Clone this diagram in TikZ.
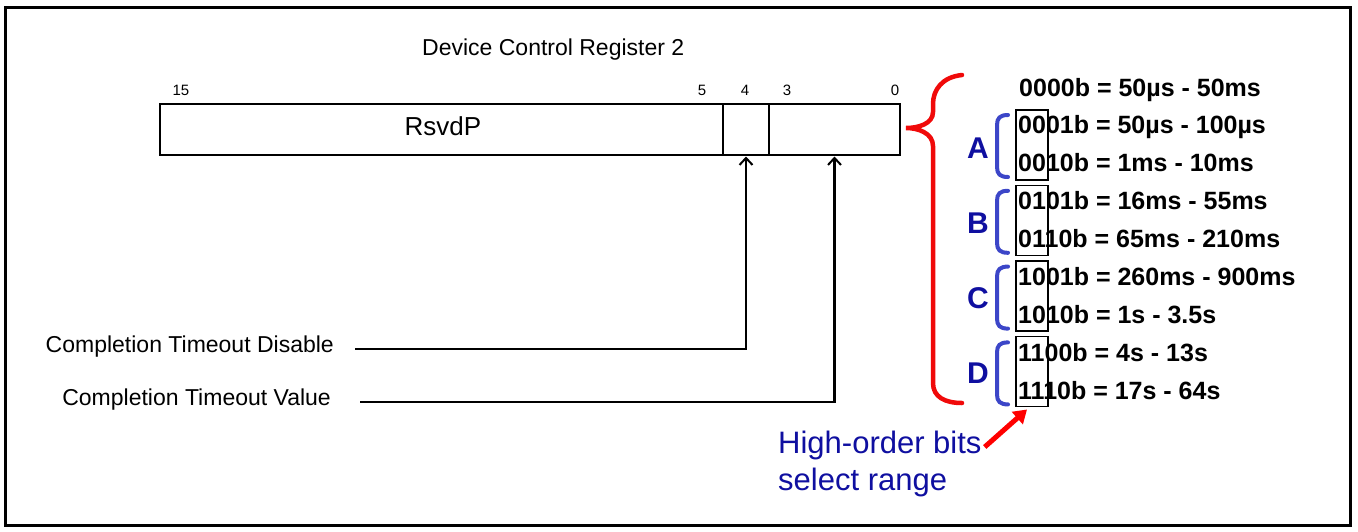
\documentclass[tikz,border=0pt]{standalone}
\usepackage{fontspec}
\setmainfont{Liberation Sans}
\usetikzlibrary{arrows.meta,calc}
\newcommand{\myfs}[1]{\fontsize{#1}{#1}\selectfont}
\definecolor{bracketblue}{RGB}{60,70,200}
\definecolor{letterblue}{RGB}{15,15,160}
\definecolor{bracered}{RGB}{240,10,10}
\begin{document}
\begin{tikzpicture}[x=1pt,y=-1pt,
  reg/.style={draw, line width=2pt, inner sep=0, outer sep=0, minimum height=51pt, anchor=north west},
  lbl/.style={font=\myfs{23}, inner sep=0},
  bit/.style={font=\myfs{15}, inner sep=0, anchor=base},
  arr/.style={line width=2.2pt, -{Straight Barb[length=7pt,width=13pt,line width=2pt]}, shorten >=1.5pt},
  code/.style={font=\bfseries\myfs{25}, inner sep=0, anchor=base west},
  hbox/.style={draw, line width=1.8pt, inner sep=0, outer sep=0, minimum width=32pt, minimum height=70pt, anchor=north west},
  grp/.style={font=\bfseries\myfs{30}, text=letterblue, inner sep=0},
  bbr/.style={draw=bracketblue, line width=4pt, line cap=round},
  hob/.style={font=\myfs{31}, text=letterblue, inner sep=0, anchor=base west},
]
\useasboundingbox (0,0) rectangle (1358,531);
\draw[line width=3pt] (5.5,7) rectangle (1350,525);

% register
\node[lbl, anchor=base west] (title) at (422,55) {Device Control Register 2};
\node[reg, minimum width=563pt] (rsvd) at (160,104) {};
\node[lbl, font=\myfs{26}] (rsvdtxt) at (443,126) {RsvdP};
\node[reg, minimum width=46pt] (b4) at (723,104) {};
\node[reg, minimum width=131pt] (b30) at (769,104) {};

\node[bit] (n15) at (181,95) {15};
\node[bit] (n5) at (702,95) {5};
\node[bit] (n4) at (745,95) {4};
\node[bit] (n3) at (787,95) {3};
\node[bit] (n0) at (895,95) {0};

% field labels
\node[lbl, anchor=base east] (ctd) at (334,352) {Completion Timeout Disable};
\node[lbl, anchor=base east] (ctv) at (331,405) {Completion Timeout Value};
\draw[arr] ($(ctd.base east)+(21,-3)$) -| (b4.south);
\draw[arr] ($(ctv.base east)+(29,-3)$) -| (b30.south);

% red brace
\draw[bracered, line width=4.5pt, line cap=round]
  (962,75) .. controls (942,77) and (933,90) .. (933,104)
  -- (933,112) .. controls (933,124) and (918,128) .. (906,128)
  .. controls (918,128) and (933,133) .. (933,146)
  -- (933,383) .. controls (933,397) and (945,403) .. (962,403);

% codes
\node[code] (c0) at (1019,96) {0000b = 50µs - 50ms};
\node[code] (c1) at (1018,133.9) {0001b = 50µs - 100µs};
\node[code] (c2) at (1018,171.8) {0010b = 1ms - 10ms};
\node[code] (c3) at (1018,209.7) {0101b = 16ms - 55ms};
\node[code] (c4) at (1018,247.6) {0110b = 65ms - 210ms};
\node[code] (c5) at (1018,285.5) {1001b = 260ms - 900ms};
\node[code] (c6) at (1018,323.4) {1010b = 1s - 3.5s};
\node[code] (c7) at (1018,361.3) {1100b = 4s - 13s};
\node[code] (c8) at (1018,399.2) {1110b = 17s - 64s};

\node[hbox] (bxA) at (1016,110) {};
\node[hbox] (bxB) at (1016,185.5) {};
\node[hbox] (bxC) at (1016,261) {};
\node[hbox] (bxD) at (1016,336.5) {};

\foreach \k/\L in {0/A,1/B,2/C,3/D} {
  \pgfmathsetmacro\t{115+75.8*\k}
  \pgfmathsetmacro\b{177+75.8*\k}
  \draw[bbr] (1008,\t) .. controls (1000,\t) and (997,\t+3) .. (997,\t+10)
     -- (997,\b-10) .. controls (997,\b-3) and (1000,\b) .. (1008,\b);
  \node[grp] (g\L) at (978,148+75*\k) {\L};
}

% note
\node[hob] (hob1) at (778,453) {High-order bits};
\node[hob] (hob2) at (778,490) {select range};
\draw[red, line width=5pt, -{Triangle[length=13pt,width=16pt]}]
  ($(hob1.base east)+(3,-6)$) -- ([shift={(11,3)}]bxD.south west);
\end{tikzpicture}
\end{document}
